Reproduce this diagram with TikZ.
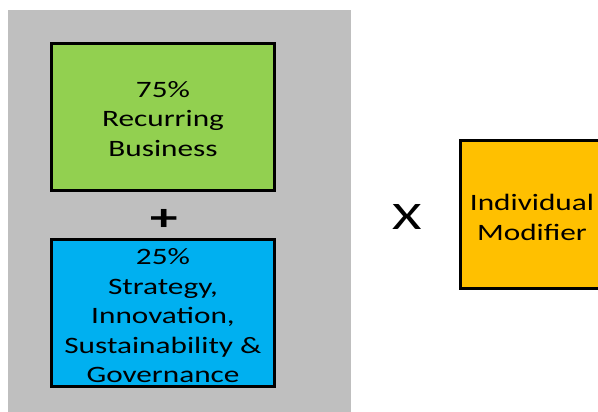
\documentclass[tikz,border=0pt]{standalone}
\usepackage{fontspec}
\setmainfont{Carlito}
\newfontfamily\boxfont[FakeStretch=1.33]{Carlito}
\newfontfamily\symfont[FakeStretch=1.45]{Carlito}
\definecolor{panelgray}{HTML}{BFBFBF}
\definecolor{boxgreen}{HTML}{92D050}
\definecolor{boxblue}{HTML}{00B0F0}
\definecolor{boxorange}{HTML}{FFC000}
\tikzset{
  termbox/.style={draw=black, line width=3pt, inner sep=0pt},
  termtext/.style={inner sep=0pt, align=center,
    font=\boxfont\fontsize{23.5}{29.5}\selectfont, text=black},
}
\begin{document}
\begin{tikzpicture}[x=1pt,y=-1pt]
\useasboundingbox (0,0) rectangle (598,412);
\fill[panelgray] (8,10) rectangle (351,420);
\node[termbox, fill=boxgreen, minimum width=223pt, minimum height=147pt] (green) at (163,117) {};
\node[termtext] (greentext) at ([yshift=-2pt]green.center) {75\%\\Recurring\\Business};
\node[font=\symfont\bfseries\fontsize{38}{38}\selectfont] (plus) at (164,220) {+};
\node[termbox, fill=boxblue, minimum width=223pt, minimum height=147pt] (blue) at (163,313) {};
\node[termtext] (bluetext) at ([yshift=-3pt]blue.center)
  {25\%\\Strategy,\\Innovation,\\Sustainability \&\\Governance};
\node[font=\symfont\fontsize{39}{39}\selectfont] (times) at (407.5,216.5) {X};
\node[termbox, fill=boxorange, minimum width=143pt, minimum height=148pt] (orange) at (532,214.5) {};
\node[termtext] (orangetext) at ([yshift=-3pt]orange.center) {Individual\\Modifier};
\end{tikzpicture}
\end{document}
